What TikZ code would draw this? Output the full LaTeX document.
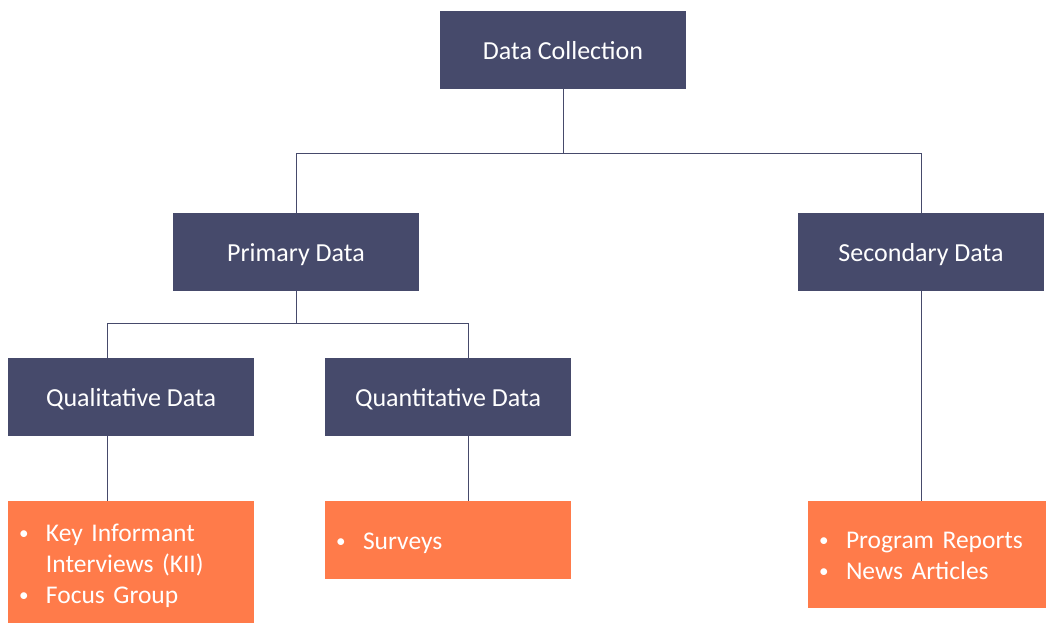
\documentclass[tikz,border=0pt]{standalone}
\usepackage{fontspec}
\setmainfont{Carlito}
\definecolor{boxblue}{HTML}{464A6B}
\definecolor{boxorange}{HTML}{FF7B4A}
\newcommand\blt{\raisebox{1.5pt}{\scalebox{0.75}{\textbullet}}}

\begin{document}
\begin{tikzpicture}[x=1pt,y=-1pt,
    head/.style={fill=boxblue,text=white,minimum width=246pt,minimum height=78pt,
      inner sep=0pt,text height=20.5pt,text depth=2pt,font=\fontsize{26}{30}\selectfont},
    list/.style={fill=boxorange,text=white,inner xsep=11pt,inner ysep=0pt,
      align=left,font=\fontsize{25.5}{31}\selectfont},
    link/.style={draw=boxblue,line width=1pt}]
  \useasboundingbox (0,0) rectangle (1046,624);
  \path
    (563,50) node[head] (dc){Data Collection}
    (296,252) node[head] (pd){Primary Data}
    (921,252) node[head] (sd){Secondary Data}
    (131,397) node[head] (ql){Qualitative Data}
    (448,397) node[head] (qn){Quantitative Data};
  \path
    (131,562) node[list,minimum width=246pt,minimum height=122pt,text width=224pt] (kii){%
      \raisebox{-4pt}[\height][\depth]{\begin{tabular}{@{}p{27pt}@{}l@{}}
        \blt & Key Informant\\
             & Interviews (KII)\\
        \blt & Focus Group
      \end{tabular}}}
    (448,540) node[list,minimum width=246pt,minimum height=78pt,text width=224pt] (sv){%
      \raisebox{-3pt}[\height][\depth]{\begin{tabular}{@{}p{27pt}@{}l@{}}
        \blt & Surveys
      \end{tabular}}}
    (927,554.5) node[list,minimum width=238pt,minimum height=107pt,text width=216pt] (pr){%
      \raisebox{-3pt}[\height][\depth]{\begin{tabular}{@{}p{27pt}@{}l@{}}
        \blt & Program Reports\\
        \blt & News Articles
      \end{tabular}}};
  \coordinate (t2) at (107,323);
  \coordinate (t3) at (468,323);
  \begin{scope}[link]
    \draw (dc.south) -- ++(0,64) coordinate (j1);
    \draw (pd.north) |- (j1) -| (sd.north);
    \draw (pd.south) -- (pd.south |- t2);
    \draw (ql.north -| t2) |- (t3) -- (qn.north -| t3);
    \draw (ql.south -| t2) -- (kii.north -| t2);
    \draw (qn.south -| t3) -- (sv.north -| t3);
    \draw (sd.south) -- (sd.south |- pr.north);
  \end{scope}
\end{tikzpicture}
\end{document}
